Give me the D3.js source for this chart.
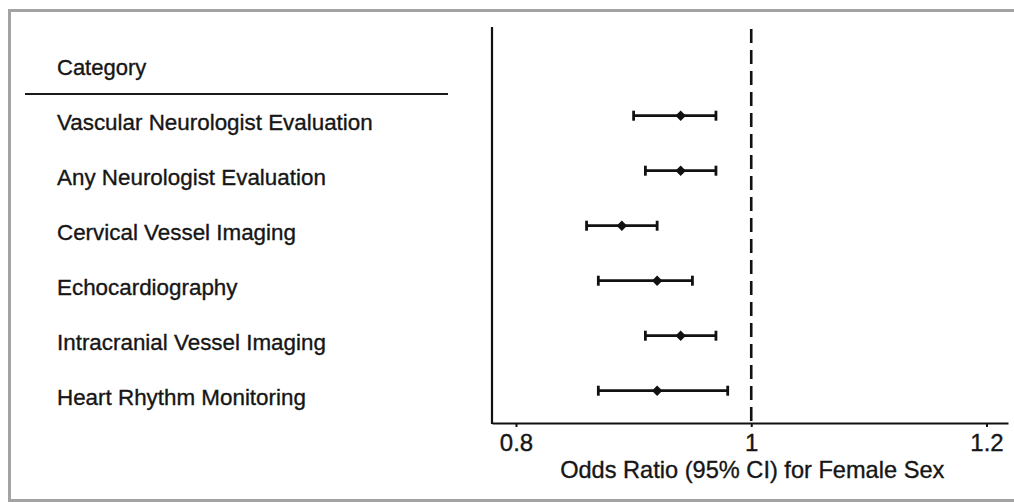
<!DOCTYPE html>
<html>
<head>
<meta charset="utf-8">
<script src="https://cdn.jsdelivr.net/npm/d3@7"></script>
<style>
  html, body { margin: 0; padding: 0; background: #fff; }
  svg { display: block; }
  text { font-family: "Liberation Sans", Arial, sans-serif; fill: #161616; stroke: #161616; stroke-width: 0.35px; }
</style>
</head>
<body>
<svg id="chart" width="1014" height="502"></svg>
<script>
const categories = [
  "Vascular Neurologist Evaluation",
  "Any Neurologist Evaluation",
  "Cervical Vessel Imaging",
  "Echocardiography",
  "Intracranial Vessel Imaging",
  "Heart Rhythm Monitoring"
];
const oddsRatio = [0.94, 0.94, 0.89, 0.92, 0.94, 0.92];
const ciLower   = [0.90, 0.91, 0.86, 0.87, 0.91, 0.87];
const ciUpper   = [0.97, 0.97, 0.92, 0.95, 0.97, 0.98];
const tickValues = [0.8, 1, 1.2];
const tickLabels = ["0.8", "1", "1.2"];
const refValue = 1;
const headerLabel = "Category";
const xTitle = "Odds Ratio (95% CI) for Female Sex";

const rows = categories.map((c, i) => ({ cat: c, or: oddsRatio[i], lo: ciLower[i], hi: ciUpper[i] }));

const svg = d3.select("#chart");

// frame
svg.append("rect")
  .attr("x", 9.5).attr("y", 10.5)
  .attr("width", 1030).attr("height", 490)
  .attr("fill", "none").attr("stroke", "#a3a3a3").attr("stroke-width", 3);

const x = d3.scaleLinear().domain([0.7796, 1.2183]).range([492, 1008]);
const y = d3.scalePoint().domain(categories).range([115.7, 390.7]);

const axisY = 423;
const topY = 27;

// category header
svg.append("text")
  .attr("x", 57).attr("y", 75)
  .attr("font-size", 22).text(headerLabel);
svg.append("line")
  .attr("x1", 25).attr("x2", 448).attr("y1", 94).attr("y2", 94)
  .attr("stroke", "#1a1a1a").attr("stroke-width", 2.2);

// category labels
svg.append("g").selectAll("text").data(rows).join("text")
  .attr("x", 57).attr("y", d => y(d.cat) + 14.3)
  .attr("font-size", 22.4)
  .text(d => d.cat);

// left vertical axis line
svg.append("line")
  .attr("x1", 492).attr("x2", 492).attr("y1", topY).attr("y2", axisY + 1)
  .attr("stroke", "#111").attr("stroke-width", 2.2);

// bottom axis
const xAxis = d3.axisBottom(x)
  .tickValues(tickValues)
  .tickFormat((d, i) => tickLabels[i])
  .tickSizeOuter(0)
  .tickSizeInner(4)
  .tickPadding(7);
const gx = svg.append("g").attr("transform", `translate(0,${axisY})`).call(xAxis);
gx.select(".domain").attr("stroke", "#111").attr("stroke-width", 2.2);
gx.selectAll(".tick line").attr("stroke", "#111").attr("stroke-width", 2);
gx.selectAll(".tick text")
  .attr("font-size", 24)
  .attr("font-family", "Liberation Sans, Arial, sans-serif")
  .attr("fill", "#161616");

// axis title
svg.append("text")
  .attr("x", (x(0.8) + x(1.2)) / 2 + 1).attr("y", 478)
  .attr("text-anchor", "middle")
  .attr("font-size", 23.6)
  .text(xTitle);

// reference dashed line
svg.append("line")
  .attr("x1", x(refValue)).attr("x2", x(refValue))
  .attr("y1", 29).attr("y2", axisY)
  .attr("stroke", "#111").attr("stroke-width", 2.6)
  .attr("stroke-dasharray", "14,7");

// error bars
const g = svg.append("g");
const bars = g.selectAll("g.row").data(rows).join("g").attr("class", "row");
bars.append("line")
  .attr("x1", d => x(d.lo)).attr("x2", d => x(d.hi))
  .attr("y1", d => y(d.cat)).attr("y2", d => y(d.cat))
  .attr("stroke", "#111").attr("stroke-width", 2.7);
bars.append("line")
  .attr("x1", d => x(d.lo)).attr("x2", d => x(d.lo))
  .attr("y1", d => y(d.cat) - 5).attr("y2", d => y(d.cat) + 5)
  .attr("stroke", "#111").attr("stroke-width", 2.8);
bars.append("line")
  .attr("x1", d => x(d.hi)).attr("x2", d => x(d.hi))
  .attr("y1", d => y(d.cat) - 5).attr("y2", d => y(d.cat) + 5)
  .attr("stroke", "#111").attr("stroke-width", 2.8);
bars.append("path")
  .attr("d", d => {
    const cx = x(d.or), cy = y(d.cat), r = 5.2;
    return `M${cx},${cy - r}L${cx + r},${cy}L${cx},${cy + r}L${cx - r},${cy}Z`;
  })
  .attr("fill", "#111");
</script>
</body>
</html>
